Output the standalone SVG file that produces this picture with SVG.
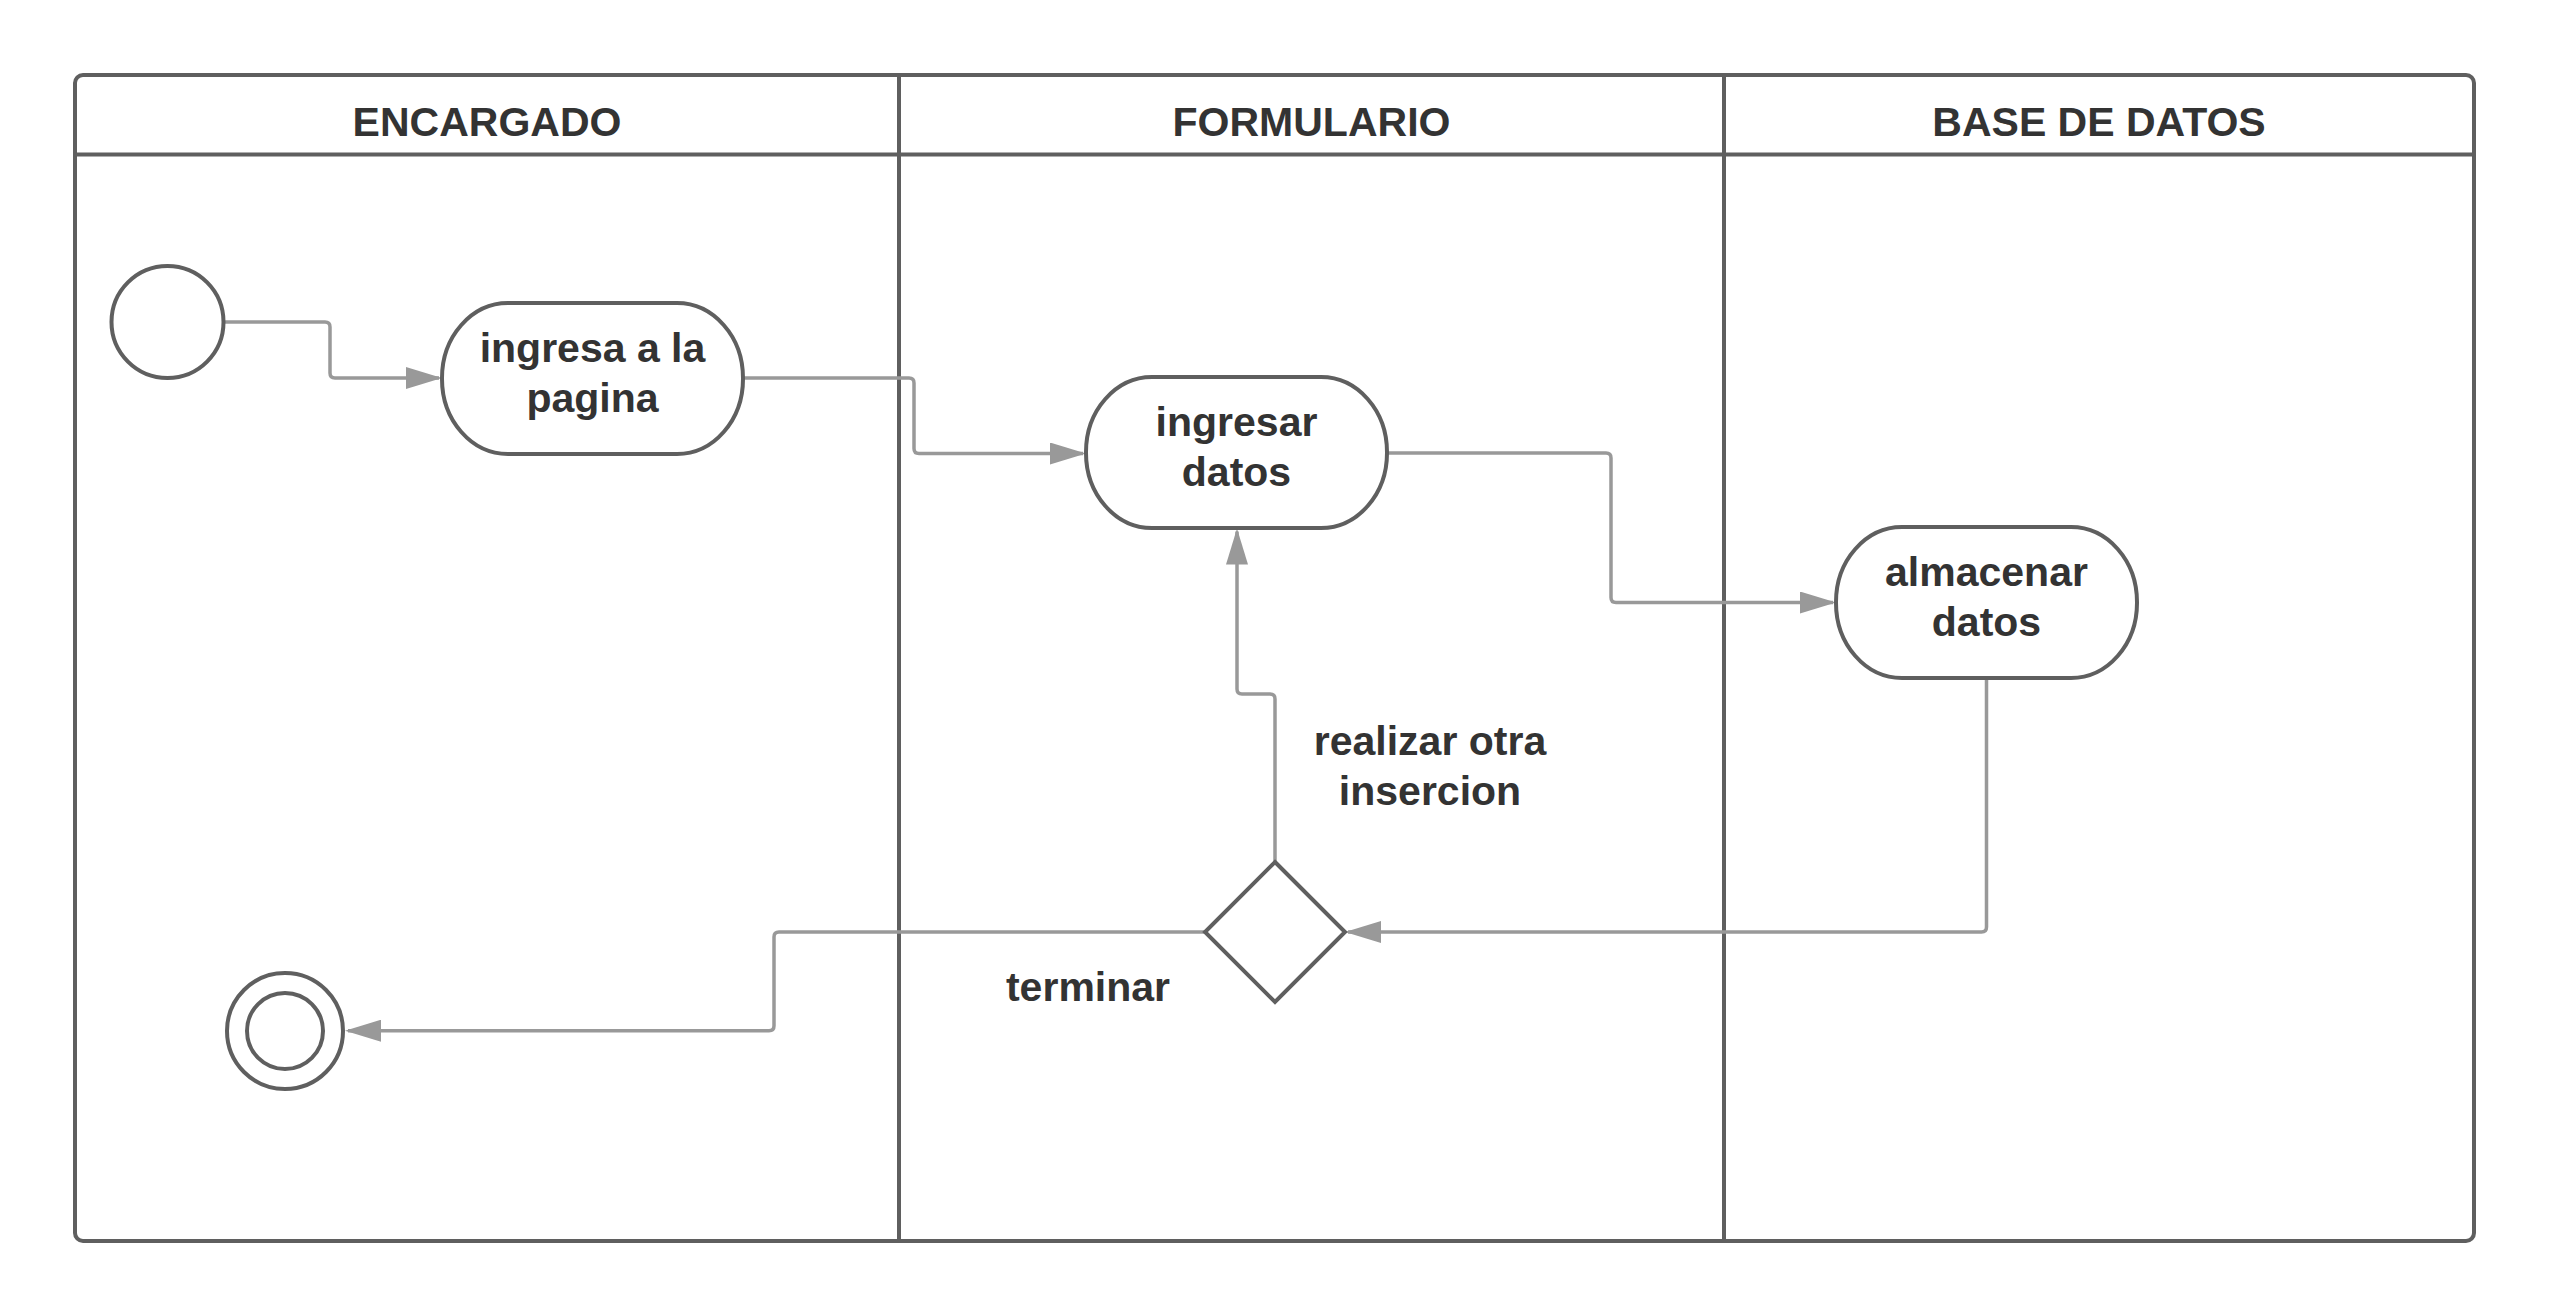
<svg xmlns="http://www.w3.org/2000/svg" width="2550" height="1316" viewBox="0 0 2550 1316">
<style>
.lane{fill:none;stroke:#5f5f5f;stroke-width:4}
.node{fill:#ffffff;stroke:#5f5f5f;stroke-width:4}
.conn{fill:none;stroke:#999999;stroke-width:3.5}
.t{font-family:"Liberation Sans",Arial,sans-serif;font-weight:bold;font-size:41px;fill:#333333;text-anchor:middle}
</style>
<defs>
<marker id="arr" viewBox="0 0 36 22" refX="33" refY="11" markerWidth="36" markerHeight="22" markerUnits="userSpaceOnUse" orient="auto">
<path d="M0,0 L36,11 L0,22 Z" fill="#999999"/>
</marker>
</defs>
<rect width="2550" height="1316" fill="#ffffff"/>
<g id="swimlanes">
<rect class="lane" x="75" y="75" width="2399" height="1166" rx="8" ry="8"/>
<line class="lane" x1="75" y1="154.5" x2="2474" y2="154.5"/>
<line class="lane" x1="899" y1="75" x2="899" y2="1241"/>
<line class="lane" x1="1724" y1="75" x2="1724" y2="1241"/>
<text class="t" x="487" y="136">ENCARGADO</text>
<text class="t" x="1311.5" y="136">FORMULARIO</text>
<text class="t" x="2099" y="136">BASE DE DATOS</text>
</g>
<g id="connectors">
<path class="conn" marker-end="url(#arr)" d="M223.5,322 H325 Q330,322 330,327 V373 Q330,378 335,378 H439"/>
<path class="conn" marker-end="url(#arr)" d="M743,378 H909 Q914,378 914,383 V448.5 Q914,453.5 919,453.5 H1083"/>
<path class="conn" marker-end="url(#arr)" d="M1387,453 H1606 Q1611,453 1611,458 V597.5 Q1611,602.5 1616,602.5 H1833"/>
<path class="conn" marker-end="url(#arr)" d="M1986.5,678 V927 Q1986.5,932 1981.5,932 H1348"/>
<path class="conn" marker-end="url(#arr)" d="M1275,862 V699 Q1275,694 1270,694 H1242 Q1237,694 1237,689 V531.5"/>
<path class="conn" marker-end="url(#arr)" d="M1205,932 H779 Q774,932 774,937 V1025.7 Q774,1030.7 769,1030.7 H348"/>
<text class="t" x="1430" y="755">realizar otra</text>
<text class="t" x="1430" y="805">insercion</text>
<text class="t" x="1088" y="1001">terminar</text>
</g>
<g id="start">
<circle class="node" cx="167.5" cy="322" r="56"/>
</g>
<g id="ingresa-pagina">
<rect class="node" x="442" y="303" width="301" height="151" rx="66" ry="75"/>
<text class="t" x="592.5" y="362">ingresa a la</text>
<text class="t" x="592.5" y="412">pagina</text>
</g>
<g id="ingresar-datos">
<rect class="node" x="1086" y="377" width="301" height="151" rx="66" ry="75"/>
<text class="t" x="1236.5" y="436">ingresar</text>
<text class="t" x="1236.5" y="486">datos</text>
</g>
<g id="almacenar-datos">
<rect class="node" x="1836" y="527" width="301" height="151" rx="66" ry="75"/>
<text class="t" x="1986.5" y="586">almacenar</text>
<text class="t" x="1986.5" y="636">datos</text>
</g>
<g id="decision">
<polygon class="node" points="1275,862 1345,932 1275,1002 1205,932"/>
</g>
<g id="end">
<circle class="node" cx="285" cy="1031" r="58"/>
<circle class="node" cx="285" cy="1031" r="38"/>
</g>
</svg>
